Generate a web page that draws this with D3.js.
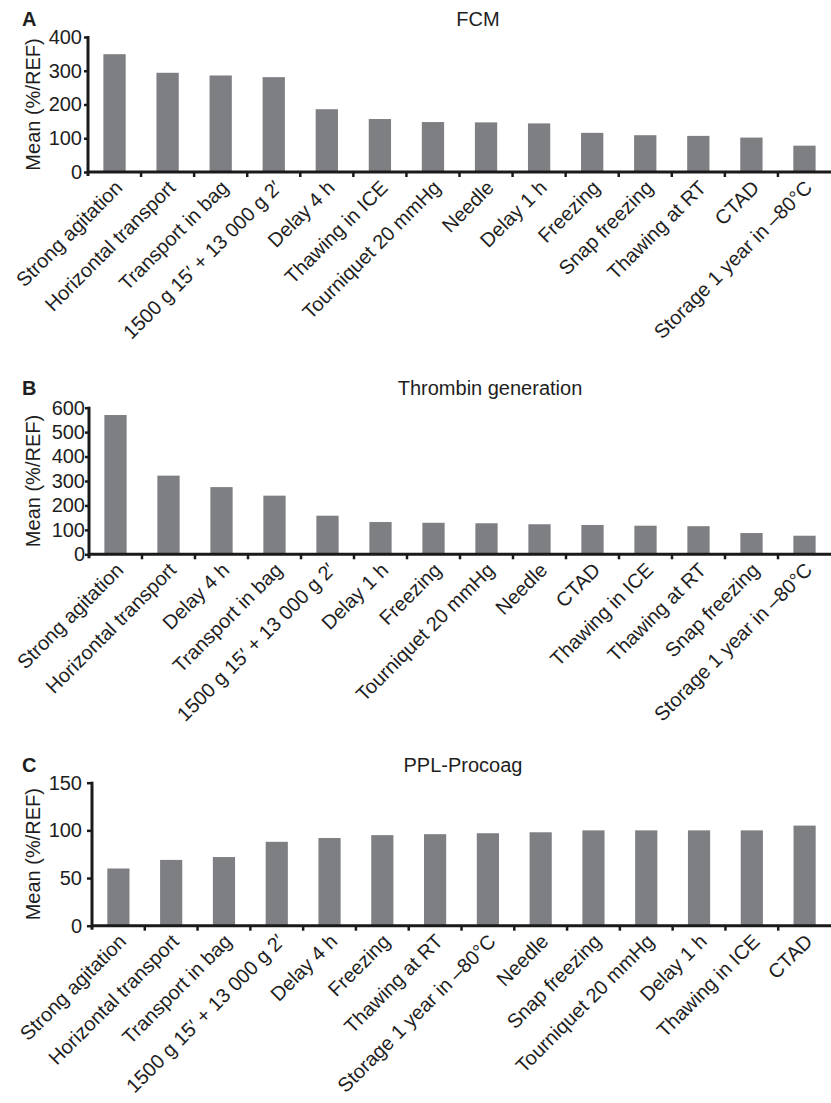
<!DOCTYPE html>
<html>
<head>
<meta charset="utf-8">
<script src="https://cdn.jsdelivr.net/npm/d3@7"></script>
<style>
  html, body { margin: 0; padding: 0; background: #fff; }
  svg { display: block; }
  text { font-family: "Liberation Sans", Arial, Helvetica, sans-serif; fill: #1e1e1e; }
</style>
</head>
<body>
<svg id="chart" width="831" height="1103"></svg>
<script>
// ---------- DATA ----------
const categoriesA = ["Strong agitation", "Horizontal transport", "Transport in bag", "1500 g 15\u2032 + 13 000 g 2\u2032", "Delay 4 h", "Thawing in ICE", "Tourniquet 20 mmHg", "Needle", "Delay 1 h", "Freezing", "Snap freezing", "Thawing at RT", "CTAD", "Storage 1 year in \u201380\u00B0C"];
const valuesA = [349, 294, 286, 281, 186, 157, 148, 147, 144, 116, 109, 107, 102, 78];
const ticksA = [0, 100, 200, 300, 400];

const categoriesB = ["Strong agitation", "Horizontal transport", "Delay 4 h", "Transport in bag", "1500 g 15\u2032 + 13 000 g 2\u2032", "Delay 1 h", "Freezing", "Tourniquet 20 mmHg", "Needle", "CTAD", "Thawing in ICE", "Thawing at RT", "Snap freezing", "Storage 1 year in \u201380\u00B0C"];
const valuesB = [570, 322, 275, 240, 158, 132, 129, 127, 123, 120, 117, 115, 87, 76];
const ticksB = [0, 100, 200, 300, 400, 500, 600];

const categoriesC = ["Strong agitation", "Horizontal transport", "Transport in bag", "1500 g 15\u2032 + 13 000 g 2\u2032", "Delay 4 h", "Freezing", "Thawing at RT", "Storage 1 year in \u201380\u00B0C", "Needle", "Snap freezing", "Tourniquet 20 mmHg", "Delay 1 h", "Thawing in ICE", "CTAD"];
const valuesC = [60, 69, 72, 88, 92, 95, 96, 97, 98, 100, 100, 100, 100, 105];
const ticksC = [0, 50, 100, 150];

const panelLetters = ["A", "B", "C"];
const panelTitles = ["FCM", "Thrombin generation", "PPL-Procoag"];
const yAxisLabel = "Mean (%/REF)";

// ---------- LAYOUT ----------
const layouts = [
  { x0: 88, x1: 831, yTop: 37, yBase: 172, max: 400, letterY: 26, titleX: 478, titleY: 26, tickSize: 4, tickPad: 2 },
  { x0: 89, x1: 831, yTop: 407.7, yBase: 554.3, max: 600, letterY: 395, titleX: 490, titleY: 395, tickSize: 4, tickPad: 0 },
  { x0: 92, x1: 831, yTop: 782.7, yBase: 925.7, max: 150, letterY: 772, titleX: 463, titleY: 772, tickSize: 5, tickPad: 5 }
];
const panels = [
  { cats: categoriesA, vals: valuesA, ticks: ticksA },
  { cats: categoriesB, vals: valuesB, ticks: ticksB },
  { cats: categoriesC, vals: valuesC, ticks: ticksC }
];

const barColor = "#7e7f83";
const axisColor = "#1a1a1a";
const fs = 20;

const svg = d3.select("#chart");

panels.forEach((p, i) => {
  const L = layouts[i];
  const g = svg.append("g");

  const x = d3.scaleBand().domain(p.cats).range([L.x0, L.x1]).paddingInner(0.58).paddingOuter(0.29);
  const y = d3.scaleLinear().domain([0, L.max]).range([L.yBase, L.yTop]);

  // bars
  g.selectAll("rect.bar").data(p.cats).enter().append("rect")
    .attr("class", "bar")
    .attr("x", d => x(d))
    .attr("width", x.bandwidth())
    .attr("y", (d, k) => y(p.vals[k]))
    .attr("height", (d, k) => y(0) - y(p.vals[k]))
    .attr("fill", barColor);

  // y axis
  const yAxis = d3.axisLeft(y).tickValues(p.ticks).tickSize(L.tickSize).tickPadding(L.tickPad).tickFormat(d3.format("d"));
  const ya = g.append("g").attr("transform", `translate(${L.x0},0)`).call(yAxis);
  ya.select(".domain").remove();
  ya.selectAll(".tick line").attr("stroke", axisColor).attr("stroke-width", 2.5);
  ya.selectAll(".tick text").attr("font-size", fs).attr("fill", "#1e1e1e")
    .attr("font-family", "Liberation Sans, Arial, sans-serif");

  // y axis line
  g.append("line")
    .attr("x1", L.x0).attr("x2", L.x0)
    .attr("y1", y(L.max) - 1).attr("y2", y(0) + 4)
    .attr("stroke", axisColor).attr("stroke-width", 3);

  // x axis line
  g.append("line")
    .attr("x1", L.x0 - 1).attr("x2", L.x1)
    .attr("y1", y(0)).attr("y2", y(0))
    .attr("stroke", axisColor).attr("stroke-width", 3);

  // x ticks at band boundaries
  const step = x.step();
  g.selectAll("line.xt").data(p.cats.slice(0, p.cats.length - 1)).enter().append("line")
    .attr("class", "xt")
    .attr("x1", d => x(d) - x.paddingOuter() * step + step + (x.bandwidth() - x.bandwidth()) )
    .attr("x2", d => x(d) - x.paddingOuter() * step + step)
    .attr("y1", y(0)).attr("y2", y(0) + 5)
    .attr("stroke", axisColor).attr("stroke-width", 2.5);

  // x labels
  g.selectAll("text.xl").data(p.cats).enter().append("text")
    .attr("class", "xl")
    .attr("transform", d => `translate(${x(d) + x.bandwidth() / 2 + 9},${y(0) + 17}) rotate(-45)`)
    .attr("text-anchor", "end")
    .attr("font-size", fs)
    .text(d => d);

  // panel letter
  g.append("text").attr("x", 22).attr("y", L.letterY)
    .attr("font-size", fs).attr("font-weight", "bold").text(panelLetters[i]);

  // title
  g.append("text").attr("x", L.titleX).attr("y", L.titleY)
    .attr("text-anchor", "middle").attr("font-size", fs).text(panelTitles[i]);

  // y label
  g.append("text")
    .attr("transform", `translate(39.5,${(y(0) + y(L.max)) / 2}) rotate(-90)`)
    .attr("text-anchor", "middle").attr("font-size", fs).text(yAxisLabel);
});
</script>
</body>
</html>
